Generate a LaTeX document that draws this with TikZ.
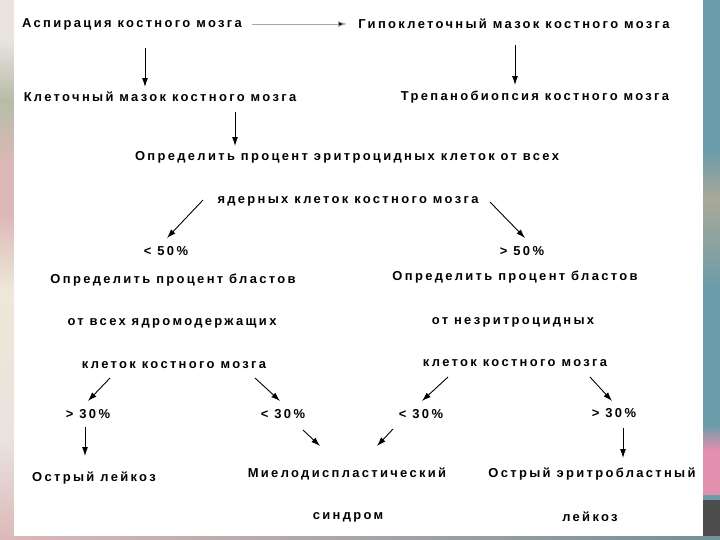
\documentclass[tikz,border=0pt]{standalone}
\usepackage{fontspec}
\newfontfamily\lbl[LetterSpace=18]{Liberation Sans}
\usetikzlibrary{arrows.meta}
\definecolor{teal1}{HTML}{6A9CA9}
\definecolor{beige1}{HTML}{E8E3DE}
\definecolor{pinkL}{HTML}{DDB8B8}
\definecolor{greenL}{HTML}{B8BCA8}
\definecolor{yelL}{HTML}{EDE8D8}
\definecolor{tan1}{HTML}{A9A998}
\definecolor{pinkR}{HTML}{E290AE}
\tikzset{
  txt/.style={inner sep=0pt, font=\lbl\bfseries\fontsize{13}{15}\selectfont, text=black},
  arr/.style={line width=0.9pt, -{Latex[length=9pt,width=6pt]}},
  garr/.style={line width=0.9pt, draw=gray!70, -{Latex[length=9pt,width=6pt,fill=black]}},
}
\begin{document}
\begin{tikzpicture}[x=1bp,y=-1bp]
\useasboundingbox (0,0) rectangle (720,540);
% background strips
\fill[beige1] (0,0) rectangle (14,540);
\shade[top color=beige1, bottom color=greenL] (0,40) rectangle (14,100);
\shade[top color=greenL, bottom color=pinkL] (0,100) rectangle (14,170);
\fill[pinkL] (0,170) rectangle (14,215);
\shade[top color=pinkL, bottom color=yelL] (0,215) rectangle (14,290);
\shade[top color=yelL, bottom color=beige1] (0,290) rectangle (14,440);
\shade[top color=beige1, bottom color=pinkL] (0,440) rectangle (14,540);
\fill[teal1] (703,0) rectangle (720,540);
\shade[top color=teal1, bottom color=tan1] (703,150) rectangle (720,200);
\shade[top color=tan1, bottom color=teal1] (703,200) rectangle (720,290);
\shade[top color=teal1, bottom color=pinkR] (703,425) rectangle (720,450);
\fill[pinkR] (703,450) rectangle (720,495);
\fill[gray!60!black] (703,500) rectangle (720,540);
\shade[left color=pinkL, right color=teal1!60!gray] (0,536) rectangle (720,540);
\fill[white] (14,0) rectangle (703,536);
% texts
\node[txt] (asp) at (132,24) {Аспирация костного мозга};
\node[txt] (hypo) at (514,24) {Гипоклеточный мазок костного мозга};
\node[txt] (cell) at (160,97) {Клеточный мазок костного мозга};
\node[txt] (trep) at (535,97) {Трепанобиопсия костного мозга};
\node[txt] (det1) at (347,157) {Определить процент эритроцидных клеток от всех};
\node[txt] (det2) at (348,201) {ядерных клеток костного мозга};
\node[txt] (lt50) at (166,251) {< 50\%};
\node[txt] (gt50) at (522,251) {> 50\%};
\node[txt] (blL1) at (173,280) {Определить процент бластов};
\node[txt] (blR1) at (515,277) {Определить процент бластов};
\node[txt] (blL2) at (172,323) {от всех ядромодержащих};
\node[txt] (blR2) at (513,322) {от незритроцидных};
\node[txt] (blL3) at (174,365) {клеток костного мозга};
\node[txt] (blR3) at (515,363) {клеток костного мозга};
\node[txt] (gtL) at (88,414) {> 30\%};
\node[txt] (ltL) at (283,414) {< 30\%};
\node[txt] (ltR) at (421,414) {< 30\%};
\node[txt] (gtR) at (614,413) {> 30\%};
\node[txt] (ol) at (94,478) {Острый лейкоз};
\node[txt] (mds1) at (347,474) {Миелодиспластический};
\node[txt] (mds2) at (348,517) {синдром};
\node[txt] (oel1) at (592,474) {Острый эритробластный};
\node[txt] (oel2) at (590,517) {лейкоз};
% arrow end points
\coordinate (a1s) at (252,24);  \coordinate (a1e) at (347,24);
\coordinate (a2s) at (145,48);  \coordinate (a2e) at (145,87);
\coordinate (a3s) at (235,112); \coordinate (a3e) at (235,146);
\coordinate (a4s) at (515,45);  \coordinate (a4e) at (515,85);
\coordinate (a5s) at (203,200); \coordinate (a5e) at (167,238);
\coordinate (a6s) at (490,202); \coordinate (a6e) at (525,238);
\coordinate (a7s) at (110,378); \coordinate (a7e) at (88,401);
\coordinate (a8s) at (255,378); \coordinate (a8e) at (280,401);
\coordinate (a9s) at (303,430); \coordinate (a9e) at (320,446);
\coordinate (a10s) at (448,377); \coordinate (a10e) at (422,401);
\coordinate (a11s) at (393,429); \coordinate (a11e) at (377,446);
\coordinate (a12s) at (590,377); \coordinate (a12e) at (612,401);
\coordinate (a13s) at (623,428); \coordinate (a13e) at (623,458);
\coordinate (a14s) at (85,427); \coordinate (a14e) at (85,456);
\draw[garr] (a1s) -- (a1e);
\draw[arr] (a2s) -- (a2e);
\draw[arr] (a3s) -- (a3e);
\draw[arr] (a4s) -- (a4e);
\draw[arr] (a5s) -- (a5e);
\draw[arr] (a6s) -- (a6e);
\draw[arr] (a7s) -- (a7e);
\draw[arr] (a8s) -- (a8e);
\draw[arr] (a9s) -- (a9e);
\draw[arr] (a10s) -- (a10e);
\draw[arr] (a11s) -- (a11e);
\draw[arr] (a12s) -- (a12e);
\draw[arr] (a13s) -- (a13e);
\draw[arr] (a14s) -- (a14e);
\end{tikzpicture}
\end{document}
